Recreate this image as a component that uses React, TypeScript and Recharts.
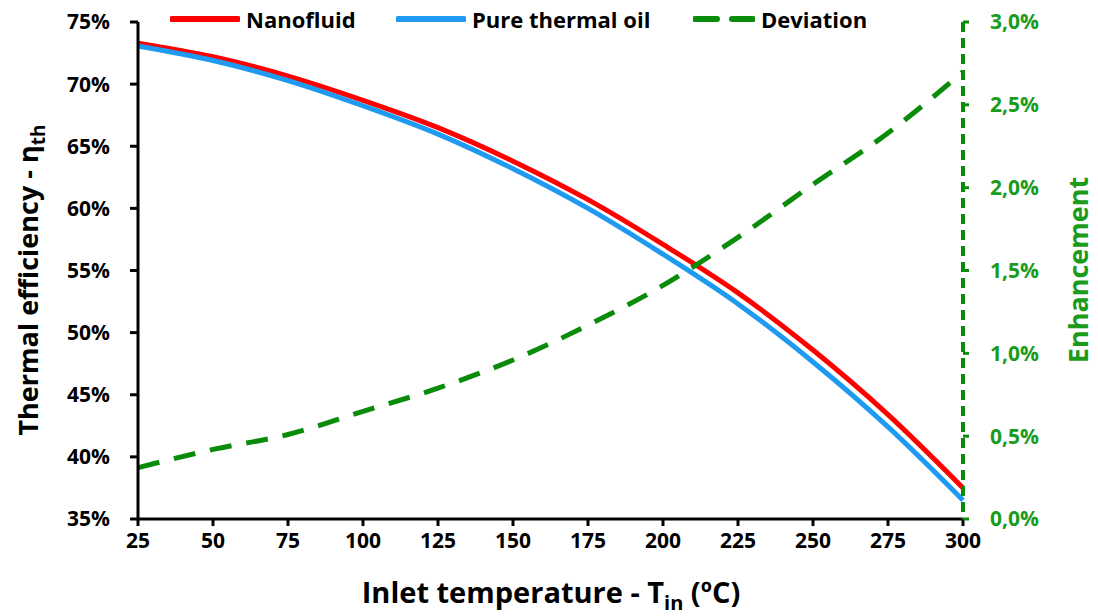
import React from 'react';
import { LineChart, Line, XAxis, YAxis } from 'recharts';

// Inlet temperature (°C)
const inletTemps = [25, 50, 75, 100, 125, 150, 175, 200, 225, 250, 275, 300];
// Thermal efficiency (%)
const nanofluid = [73.3, 72.2, 70.65, 68.7, 66.5, 63.8, 60.7, 57.1, 53.2, 48.6, 43.4, 37.5];
const pureOil = [73.07, 71.9, 70.29, 68.26, 65.98, 63.19, 60.0, 56.31, 52.31, 47.64, 42.41, 36.51];
// Enhancement of nanofluid over pure oil (%)
const deviation = [0.31, 0.42, 0.51, 0.65, 0.79, 0.96, 1.17, 1.41, 1.7, 2.02, 2.33, 2.7];

const xTicks = [25, 50, 75, 100, 125, 150, 175, 200, 225, 250, 275, 300];
const leftTicks = [35, 40, 45, 50, 55, 60, 65, 70, 75];
const rightTicks = [0, 0.5, 1, 1.5, 2, 2.5, 3];

const data = inletTemps.map((t, i) => ({
  t,
  nano: nanofluid[i],
  oil: pureOil[i],
  dev: deviation[i],
}));

const FONT = '"Open Sans", Lato, sans-serif';
const RED = '#ff0000';
const BLUE = '#1e9bf0';
const GREEN_LINE = '#0a8c0a';
const GREEN_TEXT = '#1b9b1b';

const legendItems = [
  { label: 'Nanofluid', color: RED, dash: undefined, left: 170, w: 70 },
  { label: 'Pure thermal oil', color: BLUE, dash: undefined, left: 396, w: 70 },
  { label: 'Deviation', color: GREEN_LINE, dash: '22 15', left: 693, w: 62 },
];

const tickStyle = { fill: '#000', fontSize: 21, fontWeight: 700, fontFamily: FONT };

export default function App() {
  return (
    <div style={{ position: 'absolute', left: 0, top: 0, width: 1098, height: 616, background: '#fff' }}>
      <LineChart width={1098} height={616} data={data} margin={{ top: 22, right: 50, bottom: 40, left: 40 }}>
        <XAxis
          dataKey="t"
          type="number"
          domain={[25, 300]}
          ticks={xTicks}
          interval={0}
          height={57}
          axisLine={{ stroke: '#000', strokeWidth: 3 }}
          tickLine={{ stroke: '#000', strokeWidth: 3 }}
          tickSize={7}
          tick={tickStyle}
          tickMargin={7}
        />
        <YAxis
          yAxisId="left"
          domain={[35, 75]}
          ticks={leftTicks}
          interval={0}
          width={98}
          axisLine={{ stroke: '#000', strokeWidth: 3 }}
          tickLine={{ stroke: '#000', strokeWidth: 3 }}
          tickSize={8}
          tickFormatter={(v: number) => `${v}%`}
          tick={tickStyle}
          tickMargin={20}
        />
        <YAxis
          yAxisId="right"
          orientation="right"
          domain={[0, 3]}
          ticks={rightTicks}
          interval={0}
          width={85}
          axisLine={{ stroke: GREEN_LINE, strokeWidth: 4, strokeDasharray: '10 6' }}
          tickLine={{ stroke: GREEN_LINE, strokeWidth: 3 }}
          tickSize={6}
          tickFormatter={(v: number) => `${v.toFixed(1).replace('.', ',')}%`}
          tick={{ ...tickStyle, fill: GREEN_TEXT }}
          tickMargin={21}
        />
        <Line yAxisId="left" type="monotone" dataKey="nano" stroke={RED} strokeWidth={5} dot={false} isAnimationActive={false} />
        <Line yAxisId="left" type="monotone" dataKey="oil" stroke={BLUE} strokeWidth={5} dot={false} isAnimationActive={false} />
        <Line yAxisId="right" type="monotone" dataKey="dev" stroke={GREEN_LINE} strokeWidth={5} strokeDasharray="22 15" dot={false} isAnimationActive={false} />
      </LineChart>

      {/* legend row */}
      {legendItems.map((it) => (
        <div
          key={it.label}
          style={{
            position: 'absolute', left: it.left, top: 4, height: 30, display: 'flex', alignItems: 'center',
            fontFamily: FONT, fontWeight: 700, fontSize: 22, color: '#000', whiteSpace: 'nowrap',
          }}
        >
          <svg width={it.w} height={12} style={{ marginRight: 6 }}>
            <line x1={2} y1={6} x2={it.w - 2} y2={6} stroke={it.color} strokeWidth={6} strokeLinecap="round" strokeDasharray={it.dash} />
          </svg>
          <span>{it.label}</span>
        </div>
      ))}

      <div
        style={{
          position: 'absolute', left: 30, top: 280, transform: 'translate(-50%, -50%) rotate(-90deg)',
          whiteSpace: 'nowrap', fontFamily: FONT, fontWeight: 700, fontSize: 27, color: '#000',
        }}
      >
        Thermal efficiency - η<sub style={{ fontSize: 19 }}>th</sub>
      </div>
      <div
        style={{
          position: 'absolute', left: 1077, top: 270, transform: 'translate(-50%, -50%) rotate(-90deg)',
          whiteSpace: 'nowrap', fontFamily: FONT, fontWeight: 700, fontSize: 27, color: GREEN_TEXT,
        }}
      >
        Enhancement
      </div>
      <div
        style={{
          position: 'absolute', left: 551, top: 594, transform: 'translate(-50%, -50%)',
          whiteSpace: 'nowrap', fontFamily: FONT, fontWeight: 700, fontSize: 29, color: '#000',
        }}
      >
        Inlet temperature - T<sub style={{ fontSize: 20 }}>in</sub> (ºC)
      </div>
    </div>
  );
}
